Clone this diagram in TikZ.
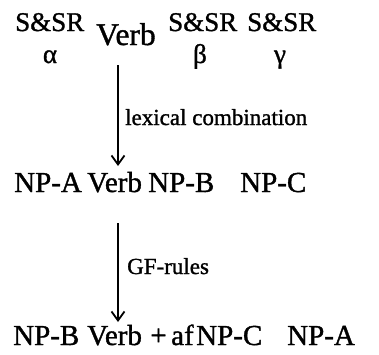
\documentclass[tikz,border=0pt]{standalone}
\usepackage{fontspec}
\setmainfont{Liberation Serif}
\newfontfamily\hv{Liberation Serif}[BoldFont={Liberation Serif}, BoldFeatures={FakeBold=1.2}]
\usetikzlibrary{arrows.meta}
\begin{document}
\begin{tikzpicture}[x=1pt,y=-1pt,
  big/.style={inner sep=0pt, anchor=base west, font=\hv\bfseries\fontsize{29}{32}\selectfont},
  top/.style={inner sep=0pt, anchor=base west, font=\hv\bfseries\fontsize{27}{30}\selectfont},
  topverb/.style={inner sep=0pt, anchor=base west, font=\hv\bfseries\fontsize{31.5}{34}\selectfont},
  greek/.style={inner sep=0pt, anchor=base, font=\hv\bfseries\fontsize{27}{30}\selectfont},
  lbl/.style={inner sep=0pt, anchor=base west, font=\hv\bfseries\fontsize{23}{26}\selectfont},
  arr/.style={line width=1.8pt, -{Straight Barb[length=9pt,width=13pt,line width=1.8pt]}}]
\useasboundingbox (0,0) rectangle (379,354);
% row 1
\node[top] (s1) at (15,31) {S\&SR};
\node[topverb] (v1) at (96,45) {Verb};
\node[top] (s2) at (168,31) {S\&SR};
\node[top] (s3) at (247,31) {S\&SR};
\node[greek] (al) at (50,63) {α};
\node[greek] (be) at (200,63) {β};
\node[greek] (ga) at (280,63) {γ};
% row 2
\node[big] (npa2) at (14,192) {NP-A};
\node[big] (v2) at (87,192) {Verb};
\node[big] (npb2) at (148,192) {NP-B};
\node[big] (npc2) at (240,192) {NP-C};
% row 3
\node[big] (npb3) at (13,345) {NP-B};
\node[big] (v3) at (87,345) {Verb};
\node[big, anchor=base] (plus) at (158.5,345) {+};
\node[big] (af) at (171,345) {af};
\node[big] (npc3) at (196,345) {NP-C};
\node[big] (npa3) at (287,345) {NP-A};
% arrows
\coordinate (a1s) at (118,65);
\coordinate (a1e) at (118,166);
\coordinate (a2s) at (118,223);
\coordinate (a2e) at (118,322);
\draw[arr] (a1s) -- (a1e);
\draw[arr] (a2s) -- (a2e);
\node[lbl] (l1) at (125,125) {lexical combination};
\node[lbl] (l2) at (127,274) {GF-rules};
\end{tikzpicture}
\end{document}
